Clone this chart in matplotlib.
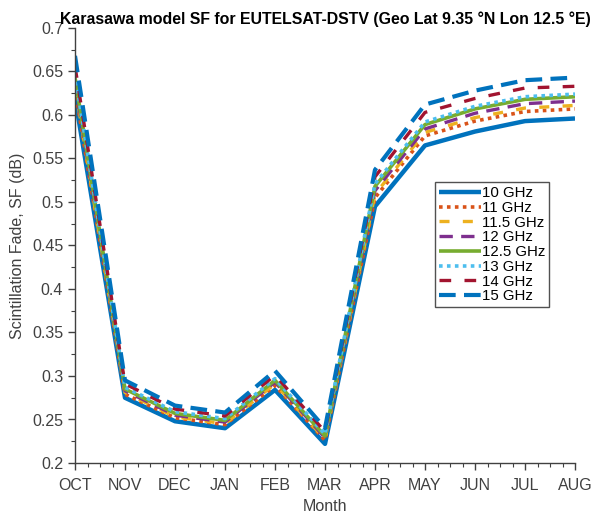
import matplotlib
matplotlib.use("Agg")
import matplotlib.pyplot as plt
from matplotlib.ticker import MultipleLocator, AutoMinorLocator

plt.rcParams['font.family'] = ['Liberation Sans', 'DejaVu Sans']

months = ['OCT', 'NOV', 'DEC', 'JAN', 'FEB', 'MAR', 'APR', 'MAY', 'JUN', 'JUL', 'AUG']
labels = ['10 GHz', '11 GHz', '11.5 GHz', '12 GHz', '12.5 GHz', '13 GHz', '14 GHz', '15 GHz']

sf_10 = [0.620, 0.275, 0.248, 0.240, 0.284, 0.222, 0.495, 0.565, 0.581, 0.593, 0.596]
sf_11 = [0.630, 0.279, 0.252, 0.244, 0.289, 0.226, 0.505, 0.576, 0.593, 0.604, 0.607]
sf_11_5 = [0.634, 0.281, 0.253, 0.245, 0.291, 0.227, 0.509, 0.580, 0.597, 0.608, 0.611]
sf_12 = [0.638, 0.283, 0.255, 0.247, 0.293, 0.229, 0.513, 0.584, 0.602, 0.613, 0.616]
sf_12_5 = [0.643, 0.285, 0.257, 0.249, 0.295, 0.231, 0.518, 0.589, 0.607, 0.618, 0.621]
sf_13 = [0.647, 0.287, 0.259, 0.251, 0.297, 0.233, 0.521, 0.592, 0.610, 0.621, 0.624]
sf_14 = [0.656, 0.291, 0.262, 0.254, 0.301, 0.236, 0.529, 0.603, 0.619, 0.631, 0.633]
sf_15 = [0.668, 0.295, 0.266, 0.258, 0.306, 0.240, 0.537, 0.612, 0.628, 0.640, 0.643]

series = [sf_10, sf_11, sf_11_5, sf_12, sf_12_5, sf_13, sf_14, sf_15]
colors = ['#0072BD', '#D95319', '#EDB120', '#7E2F8E', '#77AC30', '#4DBEEE', '#A2142F', '#0072BD']
styles = ['-', (0, (1, 1.2)), (0, (3, 4)), (0, (4, 2.5)), '-', (0, (1, 1.2)), (0, (3.5, 4)), (0, (4, 2))]
widths = [3.2, 2.6, 2.4, 2.4, 2.6, 2.6, 2.4, 3.0]

fig = plt.figure(figsize=(5.92, 5.14), dpi=100)
ax = fig.add_axes([75/592, 51/514, 500/592, 435/514])

x = list(range(len(months)))
for vals, c, ls, lw, lab in zip(series, colors, styles, widths, labels):
    ax.plot(x, vals, color=c, linestyle=ls, linewidth=lw, label=lab,
            solid_capstyle='butt', dash_capstyle='butt')

gray = '#404040'
ax.set_xlim(0, len(months) - 1)
ax.set_ylim(0.2, 0.7)
ax.set_xticks(x)
ax.set_xticklabels(months)
ax.yaxis.set_major_locator(MultipleLocator(0.05))
ax.yaxis.set_major_formatter(plt.FuncFormatter(lambda v, p: ('%.2f' % v).rstrip('0').rstrip('.')))
ax.xaxis.set_minor_locator(AutoMinorLocator(4))
ax.yaxis.set_minor_locator(AutoMinorLocator(2))
ax.tick_params(which='major', direction='out', length=5, width=1, colors=gray, labelsize=11.5)
ax.tick_params(which='minor', direction='out', length=3, width=0.8, colors=gray)
ax.tick_params(axis='x', pad=6)
for s in ['top', 'right']:
    ax.spines[s].set_visible(False)
for s in ['left', 'bottom']:
    ax.spines[s].set_color(gray)
    ax.spines[s].set_linewidth(1)

ax.set_xlabel('Month', fontsize=11.5, color=gray, labelpad=4)
ax.set_ylabel('Scintillation Fade, SF (dB)', fontsize=11.5, color=gray, labelpad=5)
ax.set_title('Karasawa model SF for EUTELSAT-DSTV (Geo Lat 9.35 °N Lon 12.5 °E)',
             fontsize=11.4, fontweight='bold', pad=3)

leg = ax.legend(loc='upper left', bbox_to_anchor=(0.72, 0.645), fontsize=10.8,
                frameon=True, fancybox=False, handlelength=2.8, handletextpad=0.1,
                labelspacing=0.05, borderpad=0.25, borderaxespad=0)
leg.get_frame().set_edgecolor('#262626')
leg.get_frame().set_linewidth(1)

fig.savefig('out.png', dpi=100)
